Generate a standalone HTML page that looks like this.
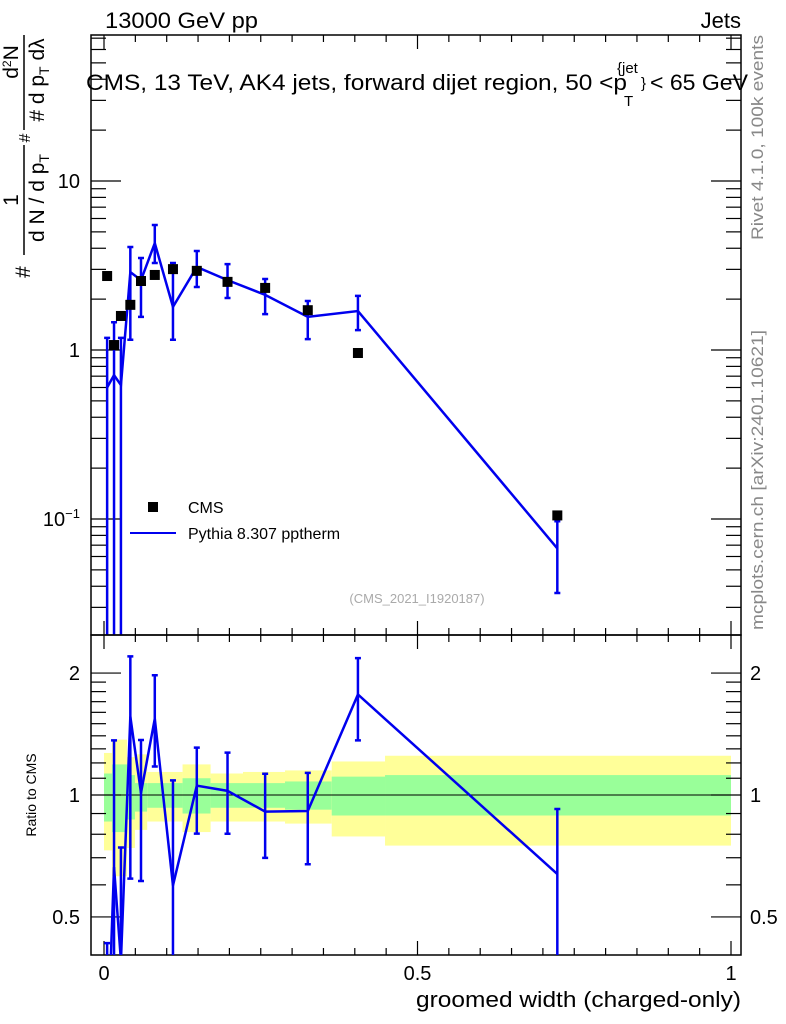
<!DOCTYPE html>
<html><head><meta charset="utf-8">
<style>
html,body{margin:0;padding:0;background:#fff;width:786px;height:1024px;overflow:hidden;}
svg{display:block;font-family:"Liberation Sans",sans-serif;}
</style></head>
<body>
<svg id="chart" width="786" height="1024" viewBox="0 0 786 1024" xmlns="http://www.w3.org/2000/svg">
  <text x="105" y="28" font-size="22" textLength="153" lengthAdjust="spacingAndGlyphs">13000 GeV pp</text>
  <text x="741" y="28" font-size="22" text-anchor="end">Jets</text>
  <g id="main"></g>
  <g id="ratio"></g>
  <g>
    <text x="86" y="90" font-size="22" textLength="541" lengthAdjust="spacingAndGlyphs">CMS, 13 TeV, AK4 jets, forward dijet region, 50 &lt;p</text>
    <text x="617" y="73" font-size="15">{jet</text>
    <text x="641" y="88" font-size="15">}</text>
    <text x="650" y="90" font-size="22" textLength="98" lengthAdjust="spacingAndGlyphs">&lt; 65 GeV</text>
    <text x="624" y="106" font-size="15">T</text>
  </g>
  <g font-size="21">
    <text transform="translate(30,272) rotate(-90)" text-anchor="middle">#</text>
    <text transform="translate(18,200) rotate(-90)" text-anchor="middle">1</text>
    <line x1="24" y1="145" x2="24" y2="255" stroke="#000" stroke-width="1.5"/>
    <text transform="translate(44,198) rotate(-90)" text-anchor="middle">d N / d p<tspan font-size="14" dy="5">T</tspan></text>
    <text transform="translate(30,138) rotate(-90)" text-anchor="middle" font-size="16">#</text>
    <text transform="translate(18,62) rotate(-90)" text-anchor="middle">d<tspan font-size="12" dy="-7">2</tspan><tspan dy="7">N</tspan></text>
    <line x1="24" y1="35" x2="24" y2="130" stroke="#000" stroke-width="1.5"/>
    <text transform="translate(44,80) rotate(-90)" text-anchor="middle"># d p<tspan font-size="14" dy="5">T</tspan><tspan dy="-5"> dλ</tspan></text>
  </g>
  <text transform="translate(763,240) rotate(-90)" font-size="17" fill="#888" textLength="205" lengthAdjust="spacingAndGlyphs">Rivet 4.1.0,  100k events</text>
  <text transform="translate(763,630) rotate(-90)" font-size="17" fill="#888" textLength="300" lengthAdjust="spacingAndGlyphs">mcplots.cern.ch [arXiv:2401.10621]</text>
  <text x="417" y="603" font-size="13" fill="#aaa" text-anchor="middle">(CMS_2021_I1920187)</text>
  <text transform="translate(36,795) rotate(-90)" font-size="14" text-anchor="middle">Ratio to CMS</text>
  <text x="741" y="1007" font-size="22" text-anchor="end" textLength="325" lengthAdjust="spacingAndGlyphs">groomed width (charged-only)</text>
  <g>
    <rect x="148" y="502" width="10" height="10" fill="#000"/>
    <text x="188" y="513" font-size="16">CMS</text>
    <line x1="130" y1="533" x2="176" y2="533" stroke="#0000ee" stroke-width="2"/>
    <text x="188" y="539" font-size="16">Pythia 8.307 pptherm</text>
  </g>
</svg>
<script>
const xVals=[0.005,0.016,0.027,0.042,0.059,0.081,0.110,0.148,0.197,0.257,0.325,0.405,0.723];
const cmsVals=[2.74,1.07,1.59,1.85,2.56,2.78,3.01,2.94,2.53,2.33,1.72,0.96,0.105];
const mcVals=[0.60,0.71,0.62,2.89,2.59,4.29,1.80,3.10,2.59,2.12,1.57,1.70,0.067];
const mcErrUp=[1.18,1.46,1.18,4.07,3.50,5.49,3.27,3.85,3.22,2.63,1.95,2.09,0.097];
const mcErrDown=[0.01,0.01,0.01,1.15,1.57,3.27,1.15,2.36,2.03,1.63,1.16,1.31,0.0365];
const bandEdges=[0,0.0127,0.0367,0.0494,0.0689,0.1253,0.1700,0.2217,0.2887,0.3632,0.4482,1.0];
const yellowHi=[1.27,1.37,1.24,1.26,1.14,1.19,1.13,1.14,1.15,1.21,1.25];
const yellowLo=[0.73,0.63,0.74,0.82,0.86,0.81,0.86,0.86,0.85,0.79,0.75];
const greenHi=[1.13,1.19,1.12,1.07,1.07,1.10,1.07,1.07,1.08,1.11,1.12];
const greenLo=[0.86,0.81,0.87,0.91,0.93,0.90,0.93,0.93,0.92,0.89,0.89];
const xTickLabels=["0","0.5","1"];

const NS="http://www.w3.org/2000/svg";
const L=91,R=741,T=35,MB=635,RB=955;
const xs=v=>104+627*v;
const ys=v=>350-169*Math.log10(v);
const yr=v=>795-405*Math.log10(v);
function el(tag,attrs,parent){const e=document.createElementNS(NS,tag);for(const k in attrs)e.setAttribute(k,attrs[k]);parent.appendChild(e);return e;}
const main=document.getElementById('main'),ratio=document.getElementById('ratio');
const clipMain=el('clipPath',{id:'cm'},main);el('rect',{x:L,y:T,width:R-L,height:MB-T},clipMain);
const clipR=el('clipPath',{id:'cr'},ratio);el('rect',{x:L,y:MB,width:R-L,height:RB-MB},clipR);

const bg=el('g',{'clip-path':'url(#cr)'},ratio);
for(let i=0;i<bandEdges.length-1;i++){
  const x0=xs(bandEdges[i]),x1=xs(bandEdges[i+1]);
  const y=el('rect',{x:x0,y:yr(yellowHi[i]),width:x1-x0,height:yr(yellowLo[i])-yr(yellowHi[i]),fill:'#ffff99'},bg);
  
  
  const g=el('rect',{x:x0,y:yr(greenHi[i]),width:x1-x0,height:yr(greenLo[i])-yr(greenHi[i]),fill:'#99ff99'},bg);
  
  
}
el('line',{x1:L,y1:yr(1),x2:R,y2:yr(1),stroke:'#000','stroke-width':1},ratio);

for(const [p,y0,y1] of [[main,T,MB],[ratio,MB,RB]]){
  const f=el('rect',{x:L,y:y0,width:R-L,height:y1-y0,fill:'none',stroke:'#000','stroke-width':1.5},p);
  
  
}
for(let k=0;k<=20;k++){
  const v=k*0.05,x=xs(v),len=(k%10==0)?14:7;
  el('line',{x1:x,y1:RB,x2:x,y2:RB-len,stroke:'#000','stroke-width':1.2},ratio);
  el('line',{x1:x,y1:MB,x2:x,y2:MB-len,stroke:'#000','stroke-width':1.2},main);
  el('line',{x1:x,y1:T,x2:x,y2:T+len,stroke:'#000','stroke-width':1.2},main);
  el('line',{x1:x,y1:MB,x2:x,y2:MB+len,stroke:'#000','stroke-width':1.2},ratio);
}
xTickLabels.forEach((s,i)=>{const t=el('text',{x:xs(i*0.5),y:980,'font-size':20,'text-anchor':'middle'},ratio);t.textContent=s;
  
  });
for(let d=-2;d<=1;d++)for(let m=1;m<=9;m++){
  const v=m*Math.pow(10,d),y=ys(v);if(y<T||y>MB)continue;
  const len=m==1?30:15;
  el('line',{x1:L,y1:y,x2:L+len,y2:y,stroke:'#000','stroke-width':1.2},main);
  el('line',{x1:R,y1:y,x2:R-len,y2:y,stroke:'#000','stroke-width':1.2},main);
}
[["10",10,80],["1",1,80]].forEach(([s,v,x])=>{const t=el('text',{x:x,y:ys(v)+7,'font-size':20,'text-anchor':'end'},main);t.textContent=s;
  
  });
{const t=el('text',{x:80,y:ys(0.1)+7,'font-size':20,'text-anchor':'end'},main);t.innerHTML='10<tspan font-size="13" dy="-8">−1</tspan>';
  
  }
for(const v of [0.5,0.6,0.7,0.8,0.9,1,1.1,1.2,1.3,1.4,1.5,1.6,1.7,1.8,1.9,2]){
  const y=yr(v),len=(v==0.5||v==1||v==2)?30:15;
  el('line',{x1:L,y1:y,x2:L+len,y2:y,stroke:'#000','stroke-width':1.2},ratio);
  el('line',{x1:R,y1:y,x2:R-len,y2:y,stroke:'#000','stroke-width':1.2},ratio);
}
[["2",2],["1",1],["0.5",0.5]].forEach(([s,v])=>{
  const t=el('text',{x:80,y:yr(v)+7,'font-size':20,'text-anchor':'end'},ratio);t.textContent=s;
  
  
  const t2=el('text',{x:750,y:yr(v)+7,'font-size':20},ratio);t2.textContent=s;
  
  
});

const gm=el('g',{'clip-path':'url(#cm)'},main);
const blue='#0000ee';
const mcLine=el('polyline',{points:xVals.map((x,i)=>xs(x)+','+ys(mcVals[i])).join(' '),fill:'none',stroke:blue,'stroke-width':2.5},gm);


xVals.forEach((x,i)=>{
  const X=xs(x),y1=ys(mcErrUp[i]),y2=ys(mcErrDown[i]);
  const e=el('path',{d:`M${X},${y1}V${y2}M${X-3},${y1}H${X+3}M${X-3},${y2}H${X+3}`,stroke:blue,'stroke-width':2.5,fill:'none'},gm);
  
  
});
xVals.forEach((x,i)=>{
  const r=el('rect',{x:xs(x)-5,y:ys(cmsVals[i])-5,width:10,height:10,fill:'#000'},gm);
  
  
});
const gr=el('g',{'clip-path':'url(#cr)'},ratio);
const rl=el('polyline',{points:xVals.map((x,i)=>xs(x)+','+yr(mcVals[i]/cmsVals[i])).join(' '),fill:'none',stroke:blue,'stroke-width':2.5},gr);


xVals.forEach((x,i)=>{
  const X=xs(x),y1=yr(mcErrUp[i]/cmsVals[i]),y2=yr(mcErrDown[i]/cmsVals[i]);
  const e=el('path',{d:`M${X},${y1}V${y2}M${X-3},${y1}H${X+3}M${X-3},${y2}H${X+3}`,stroke:blue,'stroke-width':2.5,fill:'none'},gr);
  
  
});
</script>
</body></html>
